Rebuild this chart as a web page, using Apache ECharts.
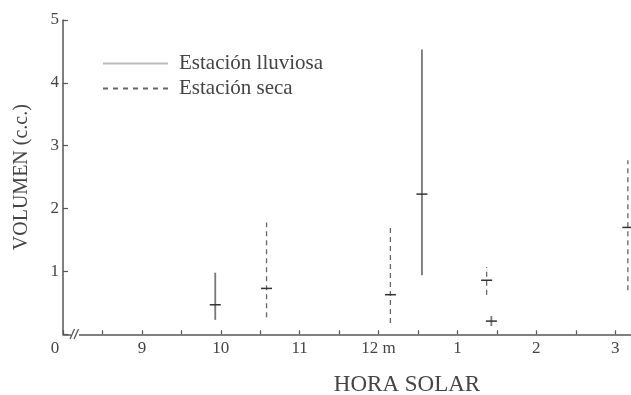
<!DOCTYPE html>
<html>
<head>
<meta charset="utf-8">
<script src="https://cdn.jsdelivr.net/npm/echarts@6/dist/echarts.min.js"></script>
<style>html,body{margin:0;padding:0;background:#fff}#c{width:631px;height:395px}</style>
</head>
<body>
<div id="c"></div>
<script>
// Hour positions (decimal solar hour) and ranges
var hourTicks = [9, 10, 11, 12, 13, 14, 15];
var hourLabels = ['9', '10', '11', '12 m', '1', '2', '3'];

// Estación lluviosa: [hour, low, high, mean]
var rainyHour = [9.93, 12.55, 13.43];
var rainyLow  = [0.23, 0.94, 0.13];
var rainyHigh = [0.98, 4.53, 0.29];
var rainyMean = [0.47, 2.23, 0.21];

// Estación seca
var dryHour = [10.58, 12.15, 13.37, 15.16];
var dryLow  = [0.27, 0.18, 0.63, 0.70];
var dryHigh = [1.78, 1.74, 1.07, 2.77];
var dryMean = [0.73, 0.63, 0.86, 1.70];

var serif = '"Liberation Serif", "DejaVu Serif", serif';

function build(h, lo, hi, me) {
  return h.map(function (x, i) { return [x, lo[i], hi[i], me[i]]; });
}

function makeRender(color, dash, width) {
  return function (params, api) {
    var x = api.value(0);
    var pLo = api.coord([x, api.value(1)]);
    var pHi = api.coord([x, api.value(2)]);
    var pMe = api.coord([x, api.value(3)]);
    return {
      type: 'group',
      children: [
        { type: 'line', shape: { x1: pLo[0], y1: pLo[1], x2: pHi[0], y2: pHi[1] },
          style: { stroke: color, lineWidth: width, lineDash: dash } },
        { type: 'line', shape: { x1: pMe[0] - 5.5, y1: pMe[1], x2: pMe[0] + 5.5, y2: pMe[1] },
          style: { stroke: '#333', lineWidth: 1.5 } }
      ]
    };
  };
}

var chart = echarts.init(document.getElementById('c'));
chart.setOption({
  backgroundColor: '#fff',
  animation: false,
  grid: { left: 63, top: 20, width: 568, height: 314.3, containLabel: false, outerBoundsMode: 'none' },
  legend: {
    orient: 'vertical', left: 102, top: 53, padding: 0, itemWidth: 65, itemHeight: 14, itemGap: 4,
    itemStyle: { opacity: 0 },
    data: [
      { name: 'Estación lluviosa', itemStyle: { opacity: 0 } },
      { name: 'Estación seca', itemStyle: { opacity: 0 } }
    ],
    textStyle: { fontFamily: serif, fontSize: 21, color: '#444', padding: [0, 0, 0, 6] }
  },
  xAxis: {
    type: 'value', min: 8, max: 15.2, interval: 0.5,
    name: 'HORA SOLAR', nameLocation: 'middle', nameGap: 39,
    nameTextStyle: { fontFamily: serif, fontSize: 23, color: '#444', padding: [0, 0, 0, 120] },
    splitLine: { show: false },
    axisLine: { lineStyle: { color: '#555', width: 1.5 } },
    axisTick: { inside: true, length: 4, lineStyle: { color: '#555', width: 1.2 } },
    axisLabel: {
      showMaxLabel: false, margin: 6,
      fontFamily: serif, fontSize: 17, color: '#444',
      rich: { z: { fontFamily: serif, fontSize: 17, color: '#444', padding: [0, 16, 0, 0] } },
      formatter: function (v) {
        if (Math.abs(v - 8) < 1e-6) return '{z|0}';
        for (var i = 0; i < hourTicks.length; i++) {
          if (Math.abs(v - hourTicks[i]) < 1e-6) return hourLabels[i];
        }
        return '';
      }
    }
  },
  yAxis: {
    type: 'value', min: 0, max: 5, interval: 1,
    name: 'VOLUMEN (c.c.)', nameLocation: 'middle', nameGap: 31, nameRotate: 90,
    nameTextStyle: { fontFamily: serif, fontSize: 20, color: '#444' },
    splitLine: { show: false },
    axisLine: { show: true, lineStyle: { color: '#555', width: 1.5 } },
    axisTick: { show: true, inside: true, length: 5, lineStyle: { color: '#555', width: 1.2 } },
    axisLabel: {
      margin: 4, fontFamily: serif, fontSize: 17, color: '#444',
      formatter: function (v) { return v === 0 ? '' : String(v); }
    }
  },
  series: [
    { name: 'Estación lluviosa', type: 'line', data: [], symbol: 'none',
      lineStyle: { color: '#bbb', width: 1.5 }, itemStyle: { color: '#bbb' } },
    { name: 'Estación seca', type: 'line', data: [], symbol: 'none',
      lineStyle: { color: '#666', width: 1.3, type: [5, 5] }, itemStyle: { color: '#666' } },
    { name: 'rainyBars', type: 'custom', data: build(rainyHour, rainyLow, rainyHigh, rainyMean),
      renderItem: makeRender('#777', null, 1.8), encode: { x: 0, y: [1, 2] } },
    { name: 'dryBars', type: 'custom', data: build(dryHour, dryLow, dryHigh, dryMean),
      renderItem: makeRender('#666', [5, 4], 1.3), encode: { x: 0, y: [1, 2] } }
  ],
  graphic: [
    { type: 'rect', shape: { x: 71, y: 332, width: 8, height: 5 }, style: { fill: '#fff' }, z: 100 },
    { type: 'line', shape: { x1: 70, y1: 339, x2: 74.5, y2: 329 }, style: { stroke: '#555', lineWidth: 1.3 }, z: 101 },
    { type: 'line', shape: { x1: 74, y1: 339, x2: 78.5, y2: 329 }, style: { stroke: '#555', lineWidth: 1.3 }, z: 101 }
  ]
});
</script>
</body>
</html>
